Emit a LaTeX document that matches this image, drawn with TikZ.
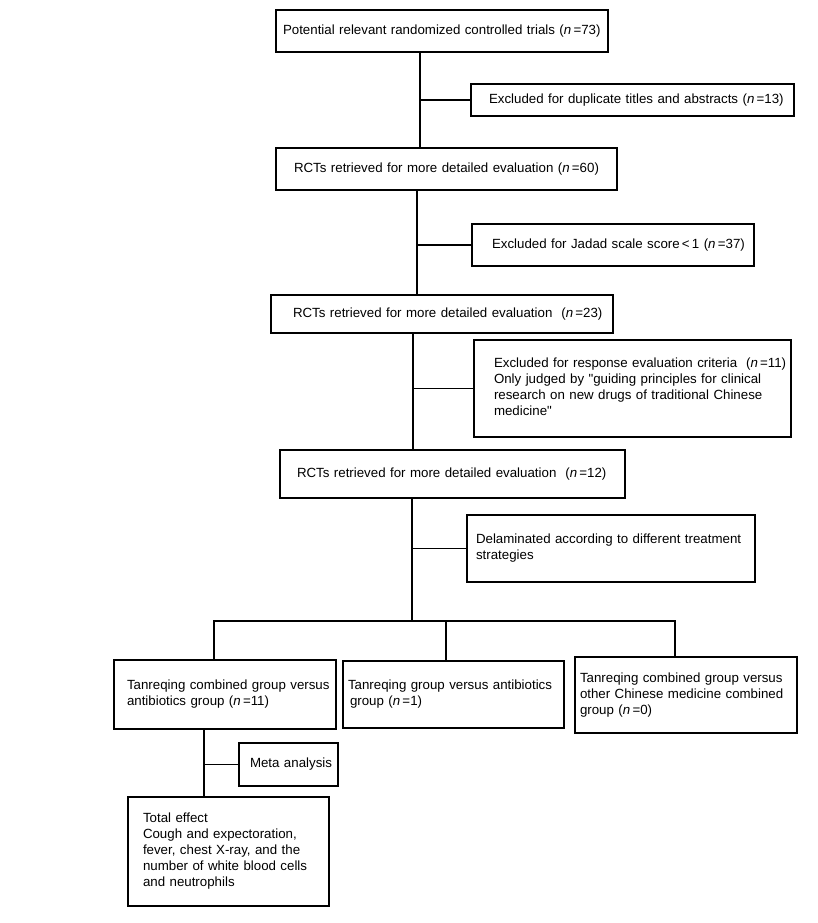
\documentclass[tikz,border=0pt]{standalone}
\usepackage{fontspec}
\setmainfont{Liberation Sans}
\newcommand{\nn}{\textit{n}\,}
\newcommand{\lns}[1]{\begin{tabular}{@{}l@{}}#1\end{tabular}}
\begin{document}
\begin{tikzpicture}[x=1pt,y=-1pt,
  line width=1.1pt,
  flowbox/.style={draw=black, line width=1.1pt, rectangle, outer sep=0pt, inner ysep=0pt,
    align=left, font=\fontsize{13.3}{16}\selectfont},
  conn/.style={draw=black, line width=1.1pt}]
\useasboundingbox (0,0) rectangle (818,923);

% boxes: flowbox with width W, left pad p  -> text width=W-2p, inner xsep=p
\node[flowbox, text width=332-14, inner xsep=7, minimum height=42] (b1) at (442,31)
  {\lns{Potential relevant randomized controlled trials (\nn=73)}};
\node[flowbox, text width=323-36, inner xsep=18, minimum height=32] (e1) at (632.5,100)
  {\lns{Excluded for duplicate titles and abstracts (\nn=13)}};
\node[flowbox, text width=341-36, inner xsep=18, minimum height=42] (b2) at (446.5,169)
  {\lns{RCTs retrieved for more detailed evaluation (\nn=60)}};
\node[flowbox, text width=282-40, inner xsep=20, minimum height=42] (e2) at (613,245)
  {\lns{Excluded for Jadad scale score\,<\,1 (\nn=37)}};
\node[flowbox, text width=342-44, inner xsep=22, minimum height=38] (b3) at (442,314)
  {\lns{RCTs retrieved for more detailed evaluation \ (\nn=23)}};
\node[flowbox, text width=317-40, inner xsep=20, minimum height=97] (e3) at (632.5,388.5)
  {\lns{Excluded for response evaluation criteria \ (\nn=11)\\
        Only judged by \textquotedbl guiding principles for clinical\\
        research on new drugs of traditional Chinese\\
        medicine\textquotedbl}};
\node[flowbox, text width=345-34, inner xsep=17, minimum height=48] (b4) at (452.5,474)
  {\lns{RCTs retrieved for more detailed evaluation \ (\nn=12)}};
\node[flowbox, text width=288-18, inner xsep=9, minimum height=67] (e4) at (611,548.5)
  {\lns{Delaminated according to different treatment\\ strategies}};
\node[flowbox, text width=222-26, inner xsep=13, minimum height=69] (ga) at (225,694.5)
  {\lns{Tanreqing combined group versus\\ antibiotics group (\nn=11)}};
\node[flowbox, text width=221-10, inner xsep=5, minimum height=67] (gb) at (453.5,694.5)
  {\lns{Tanreqing group versus antibiotics\\ \hspace{2pt}group (\nn=1)}};
\node[flowbox, text width=222-10, inner xsep=5, minimum height=76] (gc) at (686,695)
  {\lns{Tanreqing combined group versus\\ other Chinese medicine combined\\ group (\nn=0)}};
\node[flowbox, text width=99-22, inner xsep=11, minimum height=43] (meta) at (288.5,764.5)
  {\lns{Meta analysis}};
\node[flowbox, text width=201-30, inner xsep=15, minimum height=109] (tot) at (228.5,851.5)
  {\lns{Total effect\\ Cough and expectoration,\\ fever, chest X-ray, and the\\
        number of white blood cells\\ and neutrophils}};

% spine coordinates
\coordinate (s1) at (420,0);
\coordinate (s2) at (417,0);
\coordinate (s3) at (413,0);
\coordinate (s4) at (412,0);
\coordinate (j) at (412,621);
\coordinate (bl) at (214,621);
\coordinate (bm) at (446,621);
\coordinate (br) at (675,621);
\coordinate (sa) at (204,0);

\draw[conn] (s1 |- b1.south) -- (s1 |- b2.north);
\draw[conn] (s1 |- e1.west) -- (e1.west);
\draw[conn] (s2 |- b2.south) -- (s2 |- b3.north);
\draw[conn] (s2 |- e2.west) -- (e2.west);
\draw[conn] (s3 |- b3.south) -- (s3 |- b4.north);
\draw[conn] (s3 |- e3.west) -- (e3.west);
\draw[conn] (s4 |- b4.south) -- (j);
\draw[conn] (s4 |- e4.west) -- (e4.west);
\draw[conn] (bl |- ga.north) -- (bl) -- (br) -- (br |- gc.north);
\draw[conn] (bm) -- (bm |- gb.north);
\draw[conn] (sa |- ga.south) -- (sa |- tot.north);
\draw[conn] (sa |- meta.west) -- (meta.west);
\end{tikzpicture}
\end{document}
